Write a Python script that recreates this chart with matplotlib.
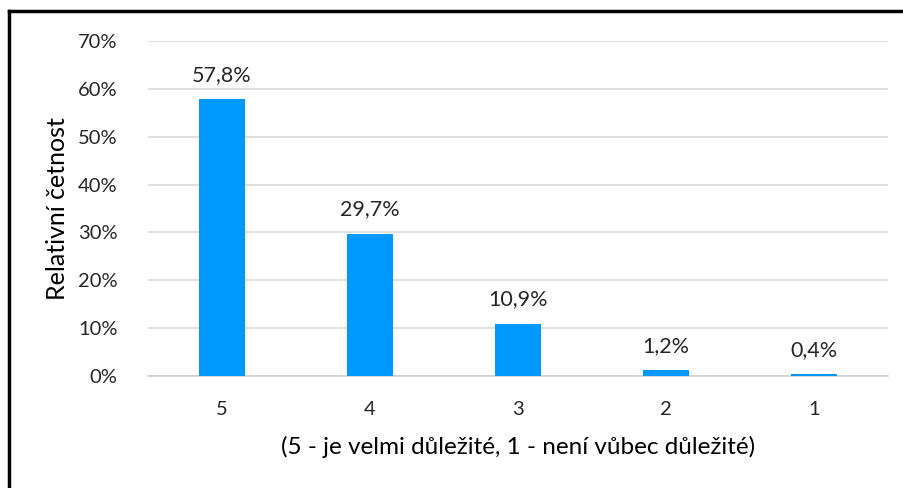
import matplotlib.pyplot as plt
from matplotlib.lines import Line2D
from matplotlib.ticker import FuncFormatter

categories = ["5", "4", "3", "2", "1"]
values = [0.578, 0.297, 0.109, 0.012, 0.004]
labels = ["57,8%", "29,7%", "10,9%", "1,2%", "0,4%"]

plt.rcParams['font.family'] = ['Lato', 'DejaVu Sans']

fig = plt.figure(figsize=(9.04, 4.88), dpi=100)
ax = fig.add_axes([0.1637, 0.2295, 0.8186, 0.6865])

x = range(len(categories))
bars = ax.bar(x, values, width=0.31, color="#0099FF", zorder=3)
for b, lab in zip(bars, labels):
    ax.text(b.get_x() + b.get_width() / 2, b.get_height() + 0.03, lab,
            ha="center", va="bottom", fontsize=15.5, color="#262626")

ax.set_xlim(-0.5, 4.5)
ax.set_ylim(0, 0.7)
ax.set_yticks([i / 10 for i in range(8)])
ax.yaxis.set_major_formatter(FuncFormatter(lambda v, p: "{:.0f}%".format(v * 100)))
ax.set_xticks(list(x))
ax.set_xticklabels(categories)
ax.tick_params(length=0, labelsize=14.5, colors="#262626")
ax.tick_params(axis="x", pad=18)
ax.tick_params(axis="y", pad=22)
ax.grid(axis="y", color="#d9d9d9", linewidth=1.2, zorder=0)
for s in ["top", "right", "left"]:
    ax.spines[s].set_visible(False)
ax.spines["bottom"].set_color("#d0d0d0")
ax.spines["bottom"].set_linewidth(1.2)

ax.set_ylabel("Relativní četnost", fontsize=18, color="black", labelpad=6)
ax.set_xlabel("(5 - je velmi důležité, 1 - není vůbec důležité)", fontsize=17.5,
              color="black", labelpad=13)

# black frame (top and left edges visible in the screenshot)
fig.add_artist(Line2D([9 / 904, 1.0], [1 - 11 / 488, 1 - 11 / 488],
                      transform=fig.transFigure, color="black", linewidth=2.5))
fig.add_artist(Line2D([9 / 904, 9 / 904], [0, 1 - 11 / 488],
                      transform=fig.transFigure, color="black", linewidth=2.5))

fig.savefig("out.png", dpi=100)
